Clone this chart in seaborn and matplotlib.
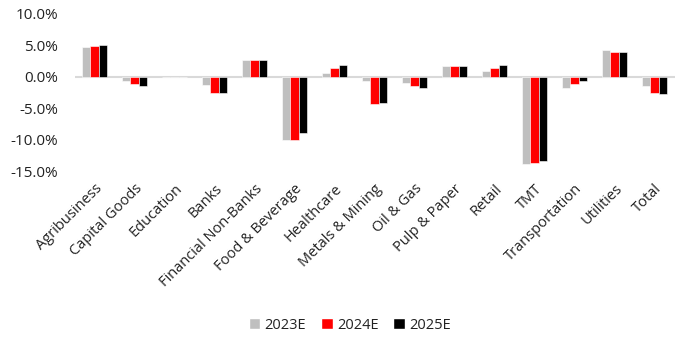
import matplotlib
matplotlib.use("Agg")
import matplotlib.pyplot as plt
import seaborn as sns
import pandas as pd
from matplotlib.ticker import FuncFormatter
from matplotlib.patches import Patch

sectors = ["Agribusiness", "Capital Goods", "Education", "Banks", "Financial Non-Banks",
           "Food & Beverage", "Healthcare", "Metals & Mining", "Oil & Gas", "Pulp & Paper",
           "Retail", "TMT", "Transportation", "Utilities", "Total"]
years = ["2023E", "2024E", "2025E"]
v2023 = [4.8, -0.6, 0.0, -1.3, 2.7, -10.0, 0.6, -0.6, -1.05, 1.65, 0.9, -13.8, -1.7, 4.3, -1.5]
v2024 = [4.9, -1.1, 0.0, -2.5, 2.6, -10.0, 1.4, -4.3, -1.4, 1.65, 1.4, -13.7, -1.2, 4.0, -2.5]
v2025 = [5.1, -1.45, 0.0, -2.5, 2.6, -8.9, 1.8, -4.2, -1.7, 1.65, 1.9, -13.4, -0.7, 4.0, -2.65]
colors = ["#bfbfbf", "#ff0000", "#000000"]

df = pd.DataFrame({
    "Sector": sectors * 3,
    "Year": [y for y in years for _ in sectors],
    "Value": v2023 + v2024 + v2025,
})

sns.set_theme(style="white")
plt.rcParams["font.family"] = ["Open Sans", "DejaVu Sans"]

fig = plt.figure(figsize=(6.78, 3.43), dpi=100)
ax = fig.add_axes([0.11, 0.50, 0.885, 0.46])

sns.barplot(data=df, x="Sector", y="Value", hue="Year", palette=colors,
            width=0.62, ax=ax, legend=False, errorbar=None, saturation=1,
            edgecolor="white", linewidth=0.4)

ax.set_ylim(-15, 10)
ax.set_yticks([-15, -10, -5, 0, 5, 10])
ax.yaxis.set_major_formatter(FuncFormatter(lambda v, p: f"{v:.1f}%"))
ax.tick_params(axis="y", labelsize=11, length=0, pad=12, labelcolor="#222222")
ax.tick_params(axis="x", labelsize=10.5, length=0, pad=7, labelcolor="#222222")
ax.set_xlim(-0.5, len(sectors) - 0.5)
for lbl in ax.get_xticklabels():
    lbl.set_rotation(45)
    lbl.set_ha("right")
    lbl.set_rotation_mode("anchor")
ax.axhline(0, color="#d9d9d9", linewidth=1.5, zorder=0)
for s in ax.spines.values():
    s.set_visible(False)
ax.set_xlabel("")
ax.set_ylabel("")

handles = [Patch(facecolor=c, label=y) for c, y in zip(colors, years)]
fig.legend(handles=handles, loc="center", bbox_to_anchor=(0.516, 0.052), ncol=3,
           frameon=False, fontsize=10.5, handlelength=0.8, handleheight=0.8,
           handletextpad=0.3, columnspacing=1.0, labelcolor="#222222")

fig.savefig("out.png", dpi=100)
